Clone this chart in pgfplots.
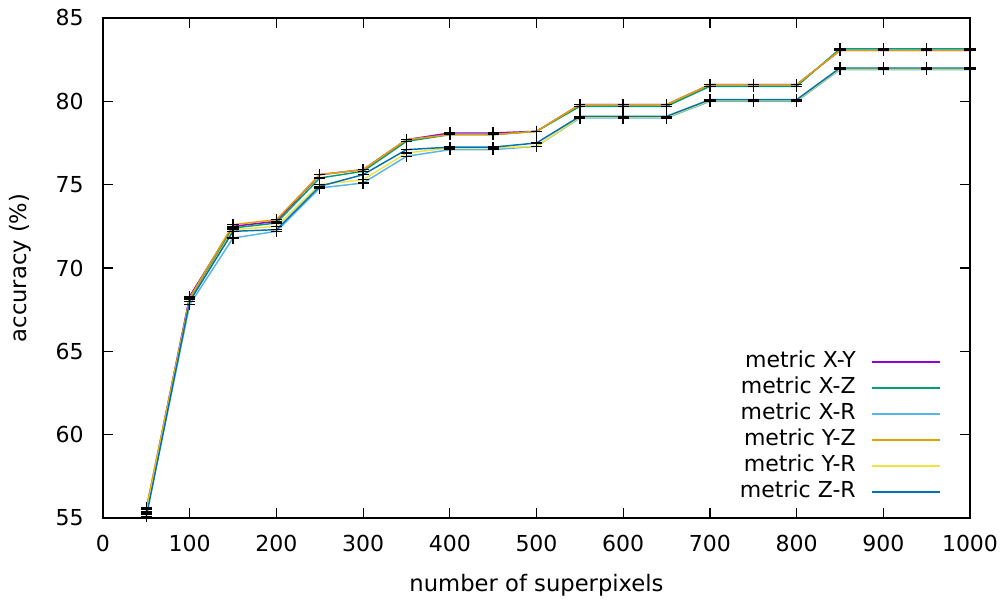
\documentclass[border=0pt]{standalone}
\usepackage{pgfplots}
\pgfplotsset{compat=1.18}
\usepackage{fontspec}
\setmainfont{DejaVu Sans}
\definecolor{cXY}{HTML}{9400D3}
\definecolor{cXZ}{HTML}{009E73}
\definecolor{cXR}{HTML}{56B4E9}
\definecolor{cYZ}{HTML}{E69F00}
\definecolor{cYR}{HTML}{F0E442}
\definecolor{cZR}{HTML}{0072B2}
\begin{document}
\begin{tikzpicture}
\useasboundingbox (-77.25pt,-63pt) rectangle (678pt,388.5pt);
\begin{axis}[
  at={(0pt,0pt)}, anchor=south west,
  scale only axis, width=650.25pt, height=375pt,
  xmin=0, xmax=1000, ymin=55, ymax=85,
  xtick={0,100,...,1000}, ytick={55,60,...,85},
  tick align=inside, major tick length=7.5pt,
  tick style={black, line width=0.9pt},
  axis line style={line width=1pt},
  /pgf/number format/assume math mode=true,
  /pgf/number format/1000 sep={},
  tick label style={font=\fontsize{16.5pt}{19pt}\selectfont},
  xticklabel style={anchor=base, yshift=-25.5pt},
  yticklabel style={anchor=east, inner sep=0pt, xshift=-14.25pt},
  label style={font=\fontsize{17pt}{20pt}\selectfont},
  xlabel={number of superpixels}, ylabel={accuracy (\%)},
  xlabel style={at={(axis description cs:0.5,-0.148)}, anchor=base},
  ylabel style={at={(axis description cs:-0.0957,0.5)}, anchor=center},
  every axis plot/.append style={line width=1.1pt, mark=+, mark size=4.2pt, mark options={black, line width=1.1pt, solid}},
  legend image code/.code={\fill[#1, mark=none, draw=none] (0pt,-0.7pt) rectangle (51pt,0.7pt);},
  legend style={draw=none, fill=none, at={(0.9654,0.0306)}, anchor=south east,
    inner sep=0pt,
    font=\fontsize{16.5pt}{20pt}\selectfont, legend plot pos=right,
    nodes={inner sep=0pt, text height=12.5pt, text depth=3.5pt},
    cells={anchor=east}, row sep=3.5pt, column sep=12pt},
]
\addplot[color=cXY] coordinates {(50,55.5)(100,68.3)(150,72.5)(200,72.8)(250,75.6)(300,75.9)(350,77.7)(400,78.1)(450,78.1)(500,78.2)(550,79.8)(600,79.8)(650,79.8)(700,81.0)(750,81.0)(800,81.0)(850,83.05)(900,83.05)(950,83.05)(1000,83.05)};
\addlegendentry{metric X-Y}
\addplot[color=cXZ] coordinates {(50,55.4)(100,68.1)(150,72.4)(200,72.7)(250,75.4)(300,75.8)(350,77.6)(400,78.0)(450,78.0)(500,78.2)(550,79.7)(600,79.7)(650,79.7)(700,80.9)(750,80.9)(800,80.9)(850,83.15)(900,83.15)(950,83.15)(1000,83.15)};
\addlegendentry{metric X-Z}
\addplot[color=cXR] coordinates {(50,55.2)(100,67.8)(150,71.8)(200,72.2)(250,74.8)(300,75.1)(350,76.7)(400,77.1)(450,77.1)(500,77.3)(550,79.0)(600,79.0)(650,79.0)(700,80.0)(750,80.0)(800,80.0)(850,81.9)(900,81.9)(950,81.9)(1000,81.9)};
\addlegendentry{metric X-R}
\addplot[color=cYZ] coordinates {(50,55.6)(100,68.2)(150,72.6)(200,72.9)(250,75.6)(300,75.9)(350,77.7)(400,78.0)(450,78.0)(500,78.2)(550,79.8)(600,79.8)(650,79.8)(700,81.0)(750,81.0)(800,81.0)(850,83.05)(900,83.05)(950,83.05)(1000,83.05)};
\addlegendentry{metric Y-Z}
\addplot[color=cYR] coordinates {(50,55.3)(100,68.0)(150,72.3)(200,72.5)(250,75.0)(300,75.3)(350,76.9)(400,77.2)(450,77.2)(500,77.3)(550,79.05)(600,79.05)(650,79.05)(700,80.05)(750,80.05)(800,80.05)(850,81.95)(900,81.95)(950,81.95)(1000,81.95)};
\addlegendentry{metric Y-R}
\addplot[color=cZR] coordinates {(50,55.1)(100,68.0)(150,72.2)(200,72.3)(250,74.9)(300,75.6)(350,77.1)(400,77.25)(450,77.25)(500,77.5)(550,79.1)(600,79.1)(650,79.1)(700,80.1)(750,80.1)(800,80.1)(850,82.0)(900,82.0)(950,82.0)(1000,82.0)};
\addlegendentry{metric Z-R}
\end{axis}
\end{tikzpicture}
\end{document}
